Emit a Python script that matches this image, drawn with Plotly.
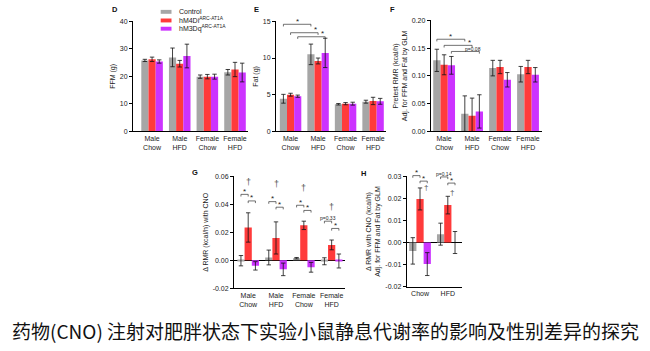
import plotly.graph_objects as go

W, H = 650, 351

# ---------------- data ----------------
GROUPS4 = ["Male<br>Chow", "Male<br>HFD", "Female<br>Chow", "Female<br>HFD"]
GROUPS2 = ["Chow", "HFD"]
SERIES = ["Control", "hM4Di<sup>ARC-AT1A</sup>", "hM3Dq<sup>ARC-AT1A</sup>"]
COLORS = ["#a6a6a6", "#ff3b3b", "#cc33ff"]

# D: FFM (g)
ffm_ctrl = [25.8, 26.9, 19.9, 21.5]
ffm_ctrl_err = [0.4, 3.4, 0.6, 1.0]
ffm_m4 = [26.2, 24.6, 19.9, 22.5]
ffm_m4_err = [0.8, 1.2, 0.8, 2.6]
ffm_m3 = [25.4, 27.4, 19.9, 21.4]
ffm_m3_err = [0.6, 4.3, 0.9, 3.4]

# E: Fat (g)
fat_ctrl = [4.45, 10.5, 3.7, 4.05]
fat_ctrl_err = [0.6, 1.4, 0.1, 0.2]
fat_m4 = [5.0, 9.6, 3.78, 4.15]
fat_m4_err = [0.2, 0.4, 0.15, 0.5]
fat_m3 = [4.8, 10.7, 3.78, 4.1]
fat_m3_err = [0.15, 2.0, 0.2, 0.4]

# F: Pretest RMR (kcal/h)
rmr_ctrl = [0.128, 0.032, 0.114, 0.103]
rmr_ctrl_err = [0.020, 0.032, 0.014, 0.014]
rmr_m4 = [0.120, 0.028, 0.116, 0.116]
rmr_m4_err = [0.018, 0.032, 0.012, 0.012]
rmr_m3 = [0.119, 0.036, 0.093, 0.102]
rmr_m3_err = [0.016, 0.030, 0.013, 0.013]

# G: delta RMR with CNO (kcal/h)
drmr_ctrl = [-0.0003, 0.0020, 0.0015, -0.0007]
drmr_ctrl_err = [0.0037, 0.0053, 0.0005, 0.0025]
drmr_m4 = [0.0235, 0.0160, 0.0250, 0.0110]
drmr_m4_err = [0.0105, 0.0115, 0.0030, 0.0035]
drmr_m3 = [-0.0040, -0.0065, -0.0050, -0.0005]
drmr_m3_err = [0.0030, 0.0045, 0.0035, 0.0050]

# H: delta RMR with CNO adjusted (kcal/h)
adj_ctrl = [-0.0038, 0.0038]
adj_ctrl_err = [0.0060, 0.0050]
adj_m4 = [0.0198, 0.0170]
adj_m4_err = [0.0050, 0.0040]
adj_m3 = [-0.0098, 0.0000]
adj_m3_err = [0.0052, 0.0050]

TICKS_D = [0, 10, 20, 30, 40]
TICKS_E = [0, 5, 10, 15]
TICKS_F = [0.0, 0.05, 0.10, 0.15, 0.20]
TICKS_F_TXT = ["0.00", "0.05", "0.10", "0.15", "0.20"]
TICKS_G = [-0.02, 0.0, 0.02, 0.04, 0.06]
TICKS_G_TXT = ["-0.02", "0.00", "0.02", "0.04", "0.06"]
TICKS_H = [-0.02, -0.01, 0.0, 0.01, 0.02, 0.03]
TICKS_H_TXT = ["-0.02", "-0.01", "0.00", "0.01", "0.02", "0.03"]

CAPTION = "药物(CNO) 注射对肥胖状态下实验小鼠静息代谢率的影响及性别差异的探究"

FONT = "Liberation Sans, Arial, sans-serif"

# ---------------- layout helpers ----------------
def fx(p):
    return p / W


def fy(p):
    return 1 - p / H


panels = {
    "D": dict(n="", xdom=(133, 248), ydom=(130, 17.7), xr=(-0.69, 3.47), yr=(0, 40),
              tv=TICKS_D, tt=[str(v) for v in TICKS_D], cats=GROUPS4, title="FFM (g)",
              data=[(ffm_ctrl, ffm_ctrl_err), (ffm_m4, ffm_m4_err), (ffm_m3, ffm_m3_err)], zero=False),
    "E": dict(n="2", xdom=(276, 386), ydom=(130, 17.7), xr=(-0.53, 3.47), yr=(0, 15),
              tv=TICKS_E, tt=[str(v) for v in TICKS_E], cats=GROUPS4, title="Fat (g)",
              data=[(fat_ctrl, fat_ctrl_err), (fat_m4, fat_m4_err), (fat_m3, fat_m3_err)], zero=False),
    "F": dict(n="3", xdom=(430.7, 542), ydom=(130, 16.7), xr=(-0.48, 3.5), yr=(0, 0.2),
              tv=TICKS_F, tt=TICKS_F_TXT, cats=GROUPS4,
              title="Pretest RMR (kcal/h)<br>Adj. for FFM and Fat by GLM",
              data=[(rmr_ctrl, rmr_ctrl_err), (rmr_m4, rmr_m4_err), (rmr_m3, rmr_m3_err)], zero=False),
    "G": dict(n="4", xdom=(234, 345), ydom=(290, 176), xr=(-0.51, 3.48), yr=(-0.02, 0.06),
              tv=TICKS_G, tt=TICKS_G_TXT, cats=GROUPS4, title="Δ RMR (kcal/h) with CNO",
              data=[(drmr_ctrl, drmr_ctrl_err), (drmr_m4, drmr_m4_err), (drmr_m3, drmr_m3_err)], zero=True),
    "H": dict(n="5", xdom=(406.7, 461.7), ydom=(288.3, 176), xr=(-0.48, 1.5), yr=(-0.02, 0.03),
              tv=TICKS_H, tt=TICKS_H_TXT, cats=GROUPS2,
              title="Δ RMR with CNO (kcal/h)<br>Adj. for FFM and Fat by GLM",
              data=[(adj_ctrl, adj_ctrl_err), (adj_m4, adj_m4_err), (adj_m3, adj_m3_err)], zero=True),
}

fig = go.Figure()
layout = dict(
    width=W, height=H, margin=dict(l=0, r=0, t=0, b=0),
    paper_bgcolor="white", plot_bgcolor="white",
    barmode="group", bargap=0.22, bargroupgap=0.0,
    showlegend=False, font=dict(family=FONT, size=7, color="#222"),
)

for key, c in panels.items():
    n = c["n"]
    xa, ya = "x" + n, "y" + n
    for i in range(3):
        vals, errs = c["data"][i]
        fig.add_trace(go.Bar(
            x=list(range(len(vals))), y=vals, name=SERIES[i],
            marker=dict(color=COLORS[i], line=dict(width=0)),
            error_y=dict(type="data", array=errs, visible=True, color="#111",
                         thickness=0.8, width=2.2),
            xaxis=xa, yaxis=ya, showlegend=False,
        ))
    layout["xaxis" + n] = dict(
        domain=[fx(c["xdom"][0]), fx(c["xdom"][1])], range=list(c["xr"]),
        anchor=ya, showline=True, linecolor="black", linewidth=1,
        ticks="", tickvals=list(range(len(c["cats"]))), ticktext=c["cats"],
        tickfont=dict(size=7, color="#222"), showgrid=False, zeroline=False,
        fixedrange=True,
    )
    layout["yaxis" + n] = dict(
        domain=[fy(c["ydom"][0]), fy(c["ydom"][1])], range=list(c["yr"]),
        anchor=xa, showline=True, linecolor="black", linewidth=1,
        ticks="outside", ticklen=3, tickwidth=0.8, tickcolor="black",
        tickvals=c["tv"], ticktext=c["tt"], tickfont=dict(size=7, color="#222"),
        showgrid=False, zeroline=c["zero"], zerolinecolor="black", zerolinewidth=1,
        title=dict(text=c["title"], font=dict(size=7, color="#222"), standoff=3),
        fixedrange=True,
    )

fig.update_layout(**layout)

shapes = []
annots = []
OFF = 0.26  # bar offset within a group


def ypaper(key, v):
    c = panels[key]
    d0, d1 = fy(c["ydom"][0]), fy(c["ydom"][1])
    r0, r1 = c["yr"]
    return d0 + (v - r0) / (r1 - r0) * (d1 - d0)


def bracket(key, x0, x1, v, text, tx=None, fs=8, dy=3.0):
    c = panels[key]
    xr = "x" + c["n"]
    yp = ypaper(key, v)
    d = 2.2 / H
    shapes.append(dict(type="path", xref=xr, yref="paper", layer="above",
                       path=f"M {x0},{yp - d} L {x0},{yp} L {x1},{yp} L {x1},{yp - d}",
                       line=dict(color="#333", width=0.7)))
    if tx is None:
        tx = (x0 + x1) / 2
    annots.append(dict(x=tx, y=yp + dy / H, xref=xr, yref="paper", text=text,
                       showarrow=False, font=dict(size=fs, color="#222"),
                       xanchor="center", yanchor="middle", borderpad=0))


def mark(key, x, v, text, fs=8):
    c = panels[key]
    annots.append(dict(x=x, y=ypaper(key, v), xref="x" + c["n"], yref="paper", text=text,
                       showarrow=False, font=dict(size=fs, color="#555"),
                       xanchor="center", yanchor="middle", borderpad=0))


# E brackets
bracket("E", -OFF, 1 - OFF, 14.6, "*")
bracket("E", 0, 1, 13.45, "*", tx=0.89)
bracket("E", OFF, 1 + OFF, 12.9, "*", tx=1.17)
# F brackets
bracket("F", -OFF, 1 - OFF, 0.166, "*")
bracket("F", 0, 1, 0.155, "*", tx=0.9)
bracket("F", OFF, 1 + OFF, 0.144, "p=0.08", tx=1.05, fs=5, dy=3)

# G brackets and daggers
g_levels = [(0.056, 0.0472, 0.0425), (0.0544, 0.042, 0.038), (0.052, 0.0394, 0.0357),
            (0.0385, 0.028, 0.0228)]
g_first = ["*", "*", "*", "p=0.33"]
for g, (dag, l1, l2) in enumerate(g_levels):
    mark("G", g, dag, "†", fs=9)
    if g_first[g] == "*":
        bracket("G", g - OFF, g, l1, "*")
    else:
        bracket("G", g - OFF, g, l1, g_first[g], fs=5, dy=3)
    bracket("G", g, g + OFF, l2, "*")

# H brackets and daggers
bracket("H", -OFF, 0, 0.0304, "*")
bracket("H", 0, OFF, 0.0279, "*")
mark("H", 0.2, 0.0252, "†", fs=8)
bracket("H", 1 - OFF, 1, 0.0298, "p=0.14", fs=5, dy=3)
bracket("H", 1, 1 + OFF, 0.0270, "*")
mark("H", 1.15, 0.0225, "†", fs=8)

# panel letters
for letter, (x, y) in {"D": (115, 6), "E": (256.7, 6), "F": (392.7, 6),
                       "G": (195, 172), "H": (363.3, 172.5)}.items():
    annots.append(dict(x=fx(x), y=fy(y), xref="paper", yref="paper", text=f"<b>{letter}</b>",
                       showarrow=False, font=dict(size=7.5, color="#111"),
                       xanchor="center", yanchor="middle"))

# legend
for i, yc in enumerate([8.0, 16.8, 25.2]):
    shapes.append(dict(type="rect", xref="paper", yref="paper",
                       x0=fx(160.7), x1=fx(171.5), y0=fy(yc + 2), y1=fy(yc - 2),
                       fillcolor=COLORS[i], line=dict(width=0)))
    annots.append(dict(x=fx(178), y=fy(yc), xref="paper", yref="paper", text=SERIES[i],
                       showarrow=False, font=dict(size=7, color="#222"),
                       xanchor="left", yanchor="middle", borderpad=0))

# caption
annots.append(dict(x=0.5, y=fy(333), xref="paper", yref="paper", text=CAPTION,
                   showarrow=False, font=dict(size=19, color="#111",
                                              family="Noto Sans CJK SC, Noto Sans"),
                   xanchor="center", yanchor="middle"))

fig.update_layout(shapes=shapes, annotations=annots)
fig.write_html("out.html")
